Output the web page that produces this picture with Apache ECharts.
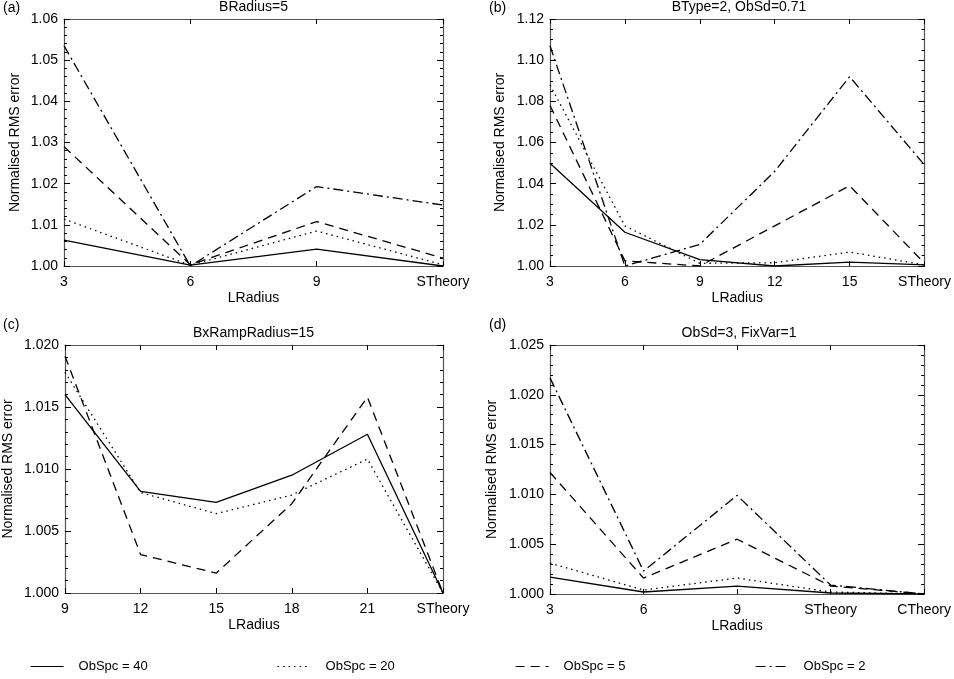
<!DOCTYPE html>
<html>
<head>
<meta charset="utf-8">
<script src="https://cdn.jsdelivr.net/npm/echarts@6/dist/echarts.min.js"></script>
<style>
html,body{margin:0;padding:0;background:#fff;}
#chart{width:954px;height:679px;}
</style>
</head>
<body>
<div id="chart"></div>
<script>
// ---- data ----
const seriesNames = ['ObSpc = 40', 'ObSpc = 20', 'ObSpc = 5', 'ObSpc = 2'];

const catsA = ['3', '6', '9', 'STheory'];
const a40 = [1.0063, 1.0002, 1.0041, 1.0000];
const a20 = [1.0114, 1.0002, 1.0085, 1.0003];
const a5  = [1.0290, 1.0003, 1.0108, 1.0019];
const a2  = [1.0535, 1.0000, 1.0193, 1.0148];

const catsB = ['3', '6', '9', '12', '15', 'STheory'];
const b40 = [1.0499, 1.0164, 1.0031, 1.0000, 1.0019, 1.0005];
const b20 = [1.0880, 1.0195, 1.0013, 1.0016, 1.0068, 1.0005];
const b5  = [1.0780, 1.0025, 1.0000, 1.0195, 1.0390, 1.0013];
const b2  = [1.1070, 1.0000, 1.0105, 1.0460, 1.0920, 1.0490];

const catsC = ['9', '12', '15', '18', '21', 'STheory'];
const c40 = [1.0160, 1.0082, 1.0073, 1.0095, 1.0128, 1.0000];
const c20 = [1.0178, 1.0081, 1.0064, 1.0079, 1.0108, 1.0000];
const c5  = [1.0191, 1.0031, 1.0016, 1.0072, 1.0158, 1.0000];

const catsD = ['3', '6', '9', 'STheory', 'CTheory'];
const d40 = [1.0017, 1.0002, 1.0008, 1.0001, 1.0000];
const d20 = [1.0031, 1.0004, 1.0016, 1.0002, 1.0000];
const d5  = [1.0122, 1.0016, 1.0055, 1.0008, 1.0000];
const d2  = [1.0217, 1.0023, 1.0099, 1.0009, 1.0000];

const titles = ['BRadius=5', 'BType=2, ObSd=0.71', 'BxRampRadius=15', 'ObSd=3, FixVar=1'];
const panelLabels = ['(a)', '(b)', '(c)', '(d)'];
const xName = 'LRadius';
const yName = 'Normalised RMS error';

// ---- layout / style ----
const FONT = '"Liberation Sans", Arial, Helvetica, sans-serif';
const dashTypes = ['solid', [1.5, 4], [9, 6], [10, 4, 2, 4]];

const panels = [
  {cats: catsA, data: [a40, a20, a5, a2], min: 1.00, max: 1.06, interval: 0.01, dec: 2, minor: 5,
   grid: {left: 64, top: 19, width: 379, height: 247}, yGap: 42},
  {cats: catsB, data: [b40, b20, b5, b2], min: 1.00, max: 1.12, interval: 0.02, dec: 2, minor: 4,
   grid: {left: 550, top: 19, width: 378, height: 247}, yGap: 43},
  {cats: catsC, data: [c40, c20, c5], min: 1.000, max: 1.020, interval: 0.005, dec: 3, minor: 5,
   grid: {left: 64, top: 345, width: 379, height: 248}, yGap: 50},
  {cats: catsD, data: [d40, d20, d5, d2], min: 1.000, max: 1.025, interval: 0.005, dec: 3, minor: 5,
   grid: {left: 550, top: 345, width: 378, height: 249}, yGap: 51}
];

const frameLine = {show: true, lineStyle: {color: '#555', width: 1.2}};
const tickStyle = {color: '#000', width: 1};
const txt = {color: '#000', fontSize: 14, fontFamily: FONT};

const grid = [], xAxis = [], yAxis = [], series = [], graphic = [];

panels.forEach((p, i) => {
  grid.push(Object.assign({containLabel: false}, p.grid));
  xAxis.push({
    gridIndex: i, type: 'category', data: p.cats, boundaryGap: false, position: 'bottom',
    axisLine: frameLine,
    axisTick: {show: true, inside: true, length: 5, interval: 0, lineStyle: tickStyle},
    axisLabel: Object.assign({interval: 0, margin: 9}, txt),
    splitLine: {show: false},
    name: xName, nameLocation: 'middle', nameGap: 25, nameTextStyle: txt
  });
  xAxis.push({
    gridIndex: i, type: 'category', data: p.cats, boundaryGap: false, position: 'top',
    axisLine: frameLine,
    axisTick: {show: true, inside: true, length: 5, interval: 0, lineStyle: tickStyle},
    axisLabel: {show: false}, splitLine: {show: false}
  });
  yAxis.push({
    gridIndex: i, type: 'value', min: p.min, max: p.max, interval: p.interval, position: 'left',
    axisLine: frameLine,
    axisTick: {show: true, inside: true, length: 6, lineStyle: tickStyle},
    minorTick: {show: true, splitNumber: p.minor, length: 3, lineStyle: tickStyle},
    axisLabel: Object.assign({margin: 6, formatter: v => v.toFixed(p.dec)}, txt),
    splitLine: {show: false}, minorSplitLine: {show: false},
    name: yName, nameLocation: 'middle', nameGap: p.yGap, nameRotate: 90, nameTextStyle: txt
  });
  yAxis.push({
    gridIndex: i, type: 'value', min: p.min, max: p.max, interval: p.interval, position: 'right',
    axisLine: frameLine,
    axisTick: {show: true, inside: true, length: 6, lineStyle: tickStyle},
    minorTick: {show: true, splitNumber: p.minor, length: 3, lineStyle: tickStyle},
    axisLabel: {show: false}, splitLine: {show: false}
  });
  p.data.forEach((arr, k) => {
    series.push({
      type: 'line', name: seriesNames[k], data: arr,
      xAxisIndex: 2 * i, yAxisIndex: 2 * i,
      symbol: 'none', showSymbol: false, silent: true,
      lineStyle: {color: '#000', width: 1.3, type: dashTypes[k]},
      itemStyle: {color: '#000'}
    });
  });
  const cx = p.grid.left + p.grid.width / 2;
  const ty = i < 2 ? 7 : 333;
  graphic.push({type: 'text', x: cx, y: ty,
    style: {text: titles[i], fill: '#000', font: '14px ' + FONT, textAlign: 'center', textVerticalAlign: 'middle'}});
  graphic.push({type: 'text', x: i % 2 === 0 ? 3 : 489, y: i < 2 ? 8 : 325,
    style: {text: panelLabels[i], fill: '#000', font: '14px ' + FONT, textAlign: 'left', textVerticalAlign: 'middle'}});
});

const legendLefts = [30, 277, 515, 755];
const legend = seriesNames.map((n, k) => ({
  data: [n], left: legendLefts[k], top: 660, padding: 0,
  itemWidth: 33, itemHeight: 14, selectedMode: false,
  itemStyle: {opacity: 0, borderWidth: 0},
  lineStyle: {width: 1.2},
  textStyle: {color: '#000', fontSize: 13, fontFamily: FONT, padding: [0, 0, 0, 10]}
}));

const chart = echarts.init(document.getElementById('chart'));
chart.setOption({
  animation: false,
  backgroundColor: '#fff',
  grid, xAxis, yAxis, series, legend, graphic
});
</script>
</body>
</html>
